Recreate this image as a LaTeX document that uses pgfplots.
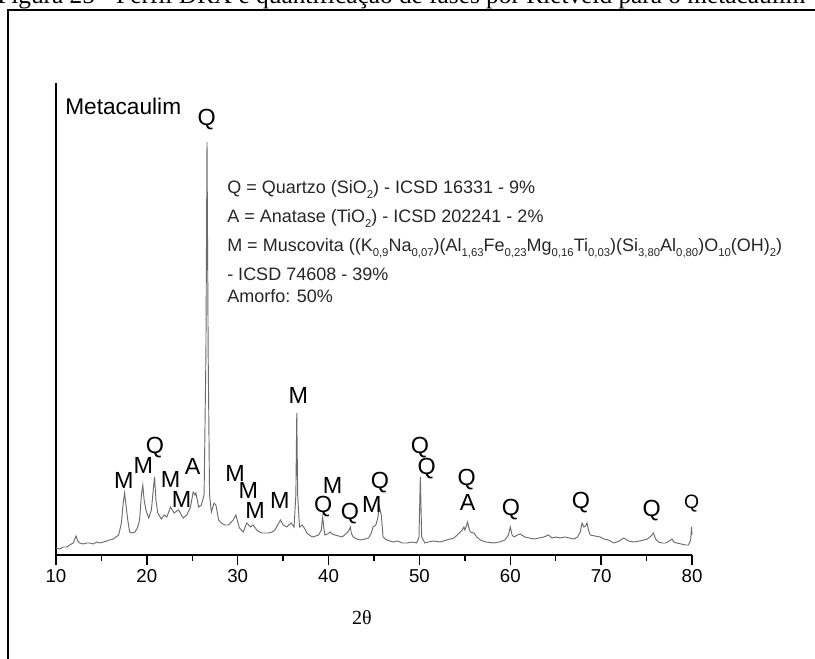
\documentclass[border=0pt]{standalone}
\usepackage{fontspec}
\setmainfont{Liberation Serif}
\newfontfamily\arial{Liberation Sans}
\usepackage{pgfplots}
\pgfplotsset{compat=1.18}
\newcommand\sub[1]{\raisebox{-0.5ex}{\fontsize{8.5}{9}\selectfont #1}}

\begin{document}
\begin{tikzpicture}
% picture is laid out in reference pixels: 1px = 0.75pt, y downwards
\useasboundingbox (0pt,0pt) rectangle (611.25pt,-494.25pt);
\clip (0pt,0pt) rectangle (611.25pt,-494.25pt);

\begin{scope}[x=0.75pt,y=-0.75pt]
  % caption, cut off at the top
  \node[anchor=base west, inner sep=0pt, font=\fontsize{19}{21}\selectfont]
    at (-3,4) {Figura 25 - Perfil DRX e quantificação de fases por Rietveld para o metacaulim};
  % page frame
  \draw[line width=1.1pt] (8,700) -- (8,10) -- (830,10);
\end{scope}

\begin{axis}[
  at={(42pt,-416.25pt)}, anchor=south west,
  scale only axis, width=477pt, height=354pt,
  xmin=10, xmax=80, ymin=0, ymax=472,
  axis x line*=bottom, axis y line*=left,
  axis line style={line width=1.1pt},
  xtick={10,20,...,80}, minor xtick={15,25,...,75},
  ytick=\empty,
  tick align=outside,
  major tick length=7.5pt, minor tick length=4.5pt,
  every tick/.style={black, line width=1pt},
  tick label style={font=\arial\fontsize{14}{16}\selectfont},
  /pgf/number format/assume math mode=true,
  clip=false,
]
\addplot[black!58, line width=0.7pt, mark=none] coordinates {
  (10.0,7) (10.4,6) (10.8,8) (11.2,8) (11.5,10) (11.9,12) (12.2,19) (12.4,14)
  (12.6,12) (13.0,11) (13.4,12) (13.7,12) (14.1,11) (14.5,13) (14.8,12) (15.2,13)
  (15.6,14) (15.9,15) (16.3,16) (16.6,18) (16.9,20) (17.2,32) (17.4,52) (17.55,62)
  (17.7,50) (17.9,35) (18.1,23) (18.4,22) (18.7,23) (19.0,28) (19.2,35) (19.4,60)
  (19.55,70) (19.7,55) (19.9,45) (20.2,37) (20.5,45) (20.7,65) (20.85,78) (21.0,55)
  (21.2,42) (21.6,36) (21.9,40) (22.2,38) (22.6,48) (23.0,42) (23.3,44) (23.5,45)
  (23.8,40) (24.0,37) (24.4,40) (24.8,48) (25.1,63) (25.3,60) (25.4,62) (25.7,48)
  (26.0,50) (26.3,60) (26.5,200) (26.62,413) (26.75,200) (26.9,60) (27.1,43) (27.4,52)
  (27.6,50) (27.9,35) (28.2,32) (28.6,30) (29.0,30) (29.5,35) (29.8,40) (30.0,33)
  (30.2,27) (30.6,23) (31.0,32) (31.2,30) (31.4,28) (31.7,30) (32.1,25) (32.4,23)
  (32.7,22) (33.0,22) (33.4,22) (33.8,23) (34.1,25) (34.4,30) (34.7,35) (35.0,30)
  (35.4,28) (35.6,30) (35.9,32) (36.2,28) (36.4,60) (36.5,142) (36.6,60) (36.8,28)
  (37.1,30) (37.4,26) (37.6,22) (37.9,20) (38.2,18) (38.6,19) (38.9,20) (39.2,25)
  (39.35,38) (39.5,25) (39.6,20) (39.9,21) (40.2,23) (40.4,21) (40.7,20) (41.1,19)
  (41.5,18) (42.0,22) (42.2,24) (42.4,28) (42.5,22) (42.7,18) (43.1,16) (43.5,15)
  (44.0,16) (44.4,17) (44.7,22) (44.9,28) (45.2,30) (45.4,36) (45.6,48) (45.8,40)
  (46.0,18) (46.4,15) (47.1,13) (47.6,14) (48.1,12) (48.6,12) (49.2,13) (49.7,12)
  (49.95,18) (50.1,78) (50.25,18) (50.6,12) (51.0,13) (51.5,14) (52.3,13) (53.0,15)
  (53.8,17) (54.4,22) (54.7,25) (54.9,28) (55.0,25) (55.2,30) (55.3,33) (55.45,27)
  (55.6,23) (56.0,22) (56.3,18) (56.7,15) (57.3,13) (58.2,12) (58.8,13) (59.4,15)
  (59.8,20) (60.0,28) (60.2,20) (60.4,18) (60.8,20) (61.1,21) (61.6,18) (62.1,17)
  (62.6,16) (63.2,17) (63.7,18) (64.2,20) (64.6,17) (65.0,18) (65.5,17) (66.0,18)
  (66.5,17) (67.0,16) (67.4,18) (67.7,23) (67.9,32) (68.1,28) (68.3,29) (68.45,32)
  (68.6,25) (68.8,20) (69.3,19) (69.9,18) (70.3,16) (70.8,15) (71.4,12) (72.0,14)
  (72.5,17) (73.0,14) (73.6,13) (74.2,14) (74.7,15) (75.1,16) (75.5,19) (75.75,22)
  (76.0,16) (76.3,13) (76.7,12) (77.1,12) (77.5,14) (77.8,16) (78.0,13) (78.3,12)
  (78.8,11) (79.3,10) (79.6,10) (79.85,15) (79.95,28) (80.0,20)
};

% phase labels over the peaks
\newcommand\pk[3]{\node[font=\arial\fontsize{17.5}{19}\selectfont, inner sep=0pt] at (axis cs:#1,#2) {#3};}
\pk{26.59}{435}{Q}
\pk{17.48}{75}{M}
\pk{19.61}{90}{M}
\pk{20.90}{107}{Q}
\pk{22.62}{76}{M}
\pk{23.83}{56}{M}
\pk{25.04}{89}{A}
\pk{29.70}{82}{M}
\pk{31.16}{65}{M}
\pk{31.90}{45}{M}
\pk{34.65}{55}{M}
\pk{36.67}{160}{M}
\pk{39.42}{48}{Q}
\pk{40.45}{70}{M}
\pk{42.36}{41}{Q}
\pk{44.75}{51}{M}
\pk{45.66}{72}{Q}
\pk{50.06}{107}{Q}
\pk{50.80}{86}{Q}
\pk{55.20}{75}{Q}
\pk{55.31}{53}{A}
\pk{60.08}{45}{Q}
\pk{67.78}{52}{Q}
\pk{75.56}{44}{Q}
\node[font=\arial\fontsize{14.5}{16}\selectfont, inner sep=0pt] at (axis cs:79.96,51) {Q};
\end{axis}

\begin{scope}[x=0.75pt,y=-0.75pt]
  \node[anchor=base west, inner sep=0pt, font=\arial\fontsize{17}{19}\selectfont] at (65,115) {Metacaulim};
  \begin{scope}[every node/.style={anchor=base west, inner sep=0pt, text=black!85,
      font=\arial\fontsize{13.5}{15}\selectfont}]
    \node at (227,193.5) {Q = Quartzo (SiO\sub{2}) - ICSD 16331 - 9\%};
    \node at (227,222.5) {A = Anatase (TiO\sub{2}) - ICSD 202241 - 2\%};
    \node at (227,251.5) {M = Muscovita ((K\sub{0,9}Na\sub{0,07})(Al\sub{1,63}Fe\sub{0,23}Mg\sub{0,16}Ti\sub{0,03})(Si\sub{3,80}Al\sub{0,80})O\sub{10}(OH)\sub{2})};
    \node at (227,280.5) {- ICSD 74608 - 39\%};
    \node at (227,302.5) {Amorfo: 50\%};
  \end{scope}
  \node[inner sep=0pt, font=\fontsize{15}{17}\selectfont] at (362,618) {2θ};
\end{scope}
\end{tikzpicture}
\end{document}
